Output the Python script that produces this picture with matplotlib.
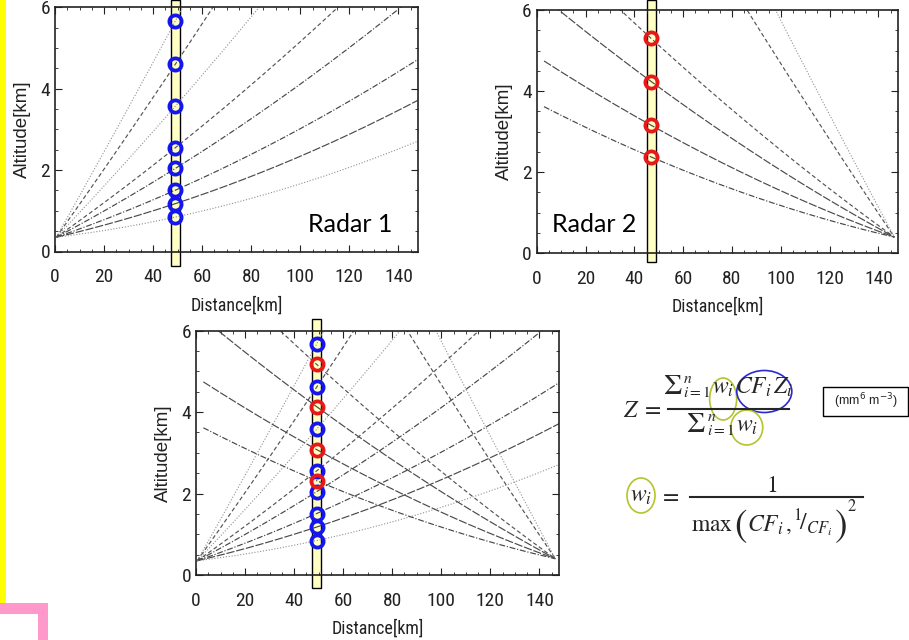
import numpy as np
import matplotlib
matplotlib.use("Agg")
import matplotlib.pyplot as plt
from matplotlib import font_manager
from matplotlib.patches import Rectangle, Ellipse
from matplotlib.ticker import MultipleLocator

W_PX, H_PX, DPI = 909, 640, 100

# ---- radar scan geometry (4/3 effective earth radius propagation) ----
EFFECTIVE_EARTH_RADIUS_KM = 4.0 / 3.0 * 6371.0

radar1_site_km = 0.5
radar1_alt_km = 0.35
radar1_max_range_km = 150.0
radar1_elevations_deg = [6.08, 4.84, 3.63, 2.43, 1.83, 1.20, 0.81, 0.42]
radar1_beam_styles = ["dot", "dash", "dot", "dash", "dashdot", "dashdot", "longdash", "dot"]

radar2_site_km = 146.5
radar2_alt_km = 0.40
radar2_max_range_km = 143.5
radar2_elevations_deg = [0.80, 1.25, 1.87, 2.48, 5.10, 6.40]
radar2_beam_styles = ["dashdot", "longdash", "longdash", "dash", "dash", "dot"]
radar2_sampled = [True, True, True, True, False, False]

# sampling column per panel
column_center_km = {"radar1": 49.1, "radar2": 46.9, "merged": 49.2}
column_width_km = 3.7
column_extent_km = {"radar1": (-0.35, 6.18), "radar2": (-0.21, 6.25), "merged": (-0.32, 6.28)}

x_major_ticks = [0, 20, 40, 60, 80, 100, 120, 140]
y_major_ticks = [0, 2, 4, 6]
x_limits = (0, 148)
y_limits = (0, 6)

panel_titles = {"radar1": "Radar 1", "radar2": "Radar 2"}
unit_label = r"(mm$^{6}$ m$^{-3}$)"

BEAM_STYLES = {
    "dot": dict(ls=(0, (1.0, 1.6)), color="#909090", lw=0.8),
    "dash": dict(ls=(0, (3.5, 2.2)), color="#555555", lw=0.85),
    "dashdot": dict(ls=(0, (5.0, 1.5, 1.0, 1.5)), color="#474747", lw=0.85),
    "longdash": dict(ls=(0, (7.0, 1.5)), color="#4a4a4a", lw=0.85),
}

BLUE = "#1515f0"
RED = "#e81818"
INK = "#222222"

plt.rcParams["mathtext.fontset"] = "stix"


def narrow_font():
    """Prefer a condensed sans face for the axis annotations."""
    fonts = font_manager.fontManager.ttflist
    names = {f.name for f in fonts}
    for fam in ("Liberation Sans Narrow", "Arial Narrow", "Roboto Condensed", "Open Sans Condensed"):
        if fam in names:
            return dict(family=[fam, "DejaVu Sans"]), 14
    for f in fonts:
        if f.name == "DejaVu Sans" and str(f.stretch) in ("condensed", "semi-condensed", "75", "87.5"):
            return dict(family=["DejaVu Sans"], stretch="condensed"), 13
    return dict(family=["Liberation Sans", "DejaVu Sans"]), 12


NARROW, TICK_SIZE = narrow_font()


def beam_height(x, site, alt, elev_deg):
    d = np.abs(np.asarray(x, dtype=float) - site)
    return alt + d * np.tan(np.radians(elev_deg)) + d ** 2 / (2.0 * EFFECTIVE_EARTH_RADIUS_KM)


def radar1_beams():
    x = np.linspace(radar1_site_km, radar1_site_km + radar1_max_range_km, 400)
    return [(x, el, st, True) for el, st in zip(radar1_elevations_deg, radar1_beam_styles)], \
        (radar1_site_km, radar1_alt_km)


def radar2_beams():
    x = np.linspace(radar2_site_km - radar2_max_range_km, radar2_site_km, 400)
    return [(x, el, st, s) for el, st, s in zip(radar2_elevations_deg, radar2_beam_styles, radar2_sampled)], \
        (radar2_site_km, radar2_alt_km)


def style_axes(ax):
    ax.set_xlim(*x_limits)
    ax.set_ylim(*y_limits)
    ax.set_xticks(x_major_ticks)
    ax.set_yticks(y_major_ticks)
    ax.xaxis.set_minor_locator(MultipleLocator(5))
    ax.yaxis.set_minor_locator(MultipleLocator(0.5))
    ax.tick_params(which="both", direction="in", top=True, right=True, colors=INK)
    ax.tick_params(which="major", length=5, width=0.8)
    ax.tick_params(which="minor", length=2.5, width=0.6)
    ax.tick_params(axis="x", pad=12, labelsize=TICK_SIZE)
    ax.tick_params(axis="y", pad=3.5, labelsize=TICK_SIZE)
    for lbl in ax.get_xticklabels() + ax.get_yticklabels():
        lbl.update(NARROW)
    for sp in ax.spines.values():
        sp.set_linewidth(1.2)
        sp.set_color(INK)
    ax.set_xlabel("Distance[km]", fontsize=13, labelpad=7, color=INK, **NARROW)
    ax.set_ylabel("Altitude[km]", fontsize=13.5, labelpad=7, color=INK,
                  family=["Liberation Sans", "DejaVu Sans"])


def draw_panel(ax, key, radars):
    style_axes(ax)
    cx = column_center_km[key]
    y0, y1 = column_extent_km[key]
    ax.add_patch(Rectangle((cx - column_width_km / 2, y0), column_width_km, y1 - y0,
                           facecolor="#ffffc4", edgecolor="black", lw=1.0,
                           clip_on=False, zorder=1))
    for beams, (site, alt), color in radars:
        for x, el, st, _ in beams:
            ax.plot(x, beam_height(x, site, alt, el), zorder=2, **BEAM_STYLES[st])
    for beams, (site, alt), color in radars:
        hs = [beam_height(cx, site, alt, el) for x, el, st, s in beams if s]
        ax.plot([cx] * len(hs), hs, "o", ms=8.8, mfc="none", mec=color, mew=2.7,
                clip_on=False, zorder=4)
    if key in panel_titles:
        pos = {"radar1": (0.697, 0.081), "radar2": (0.0415, 0.0875)}[key]
        ax.text(*pos, panel_titles[key], transform=ax.transAxes, fontsize=18,
                family=["Lato", "DejaVu Sans"], ha="left", va="baseline", zorder=5)


fig = plt.figure(figsize=(W_PX / DPI, H_PX / DPI), dpi=DPI)


def px_axes(x0, x1, top, bottom):
    return fig.add_axes([x0 / W_PX, 1 - bottom / H_PX, (x1 - x0) / W_PX, (bottom - top) / H_PX])


ax1 = px_axes(55, 418, 7.3, 251.5)
ax2 = px_axes(536.7, 898, 10, 253.3)
ax3 = px_axes(196, 559, 330.7, 575)

r1 = radar1_beams()
r2 = radar2_beams()
draw_panel(ax1, "radar1", [(r1[0], r1[1], BLUE)])
draw_panel(ax2, "radar2", [(r2[0], r2[1], RED)])
draw_panel(ax3, "merged", [(r1[0], r1[1], BLUE), (r2[0], r2[1], RED)])

# ---- page decorations and the composite reflectivity formulas (pixel space) ----
ov = fig.add_axes([0, 0, 1, 1])
ov.set_xlim(0, W_PX)
ov.set_ylim(H_PX, 0)
ov.axis("off")

ov.add_patch(Rectangle((0, 0), 6, 603, facecolor="#ffff00", edgecolor="none"))
ov.add_patch(Rectangle((0, 603), 48, 10.5, facecolor="#ff99cc", edgecolor="none"))
ov.add_patch(Rectangle((38, 603), 10, 37, facecolor="#ff99cc", edgecolor="none"))

FORMULA_COLOR = "#262626"
GREEN_RING = "#b4c42e"
renderer = fig.canvas.get_renderer()


def flow(pieces, center_x, baseline_y, gap=1.0):
    """Set math pieces left to right on a common baseline, centred on center_x."""
    texts, widths = [], []
    for s, size, dy in pieces:
        t = ov.text(0, baseline_y + dy, s, fontsize=size, color=FORMULA_COLOR,
                    ha="left", va="baseline")
        widths.append(t.get_window_extent(renderer).width)
        texts.append(t)
    total = sum(widths) + gap * (len(pieces) - 1)
    x = center_x - total / 2.0
    spans = []
    for t, w in zip(texts, widths):
        t.set_x(x)
        spans.append((x, x + w))
        x += w + gap
    return spans


# Z = sum(w_i CF_i Z_i) / sum(w_i)
ov.text(661, 417, r"$Z\;=$", fontsize=17, color=FORMULA_COLOR, ha="right", va="baseline")
num = flow([(r"$\Sigma$", 21, 0), (r"${}^{n}_{i=1}$", 16, -3), (r"$w_i$", 17, 0),
            (r"$CF_i\,Z_i$", 17, 0)], 728, 394)
ov.plot([668, 789], [409, 409], color=FORMULA_COLOR, lw=1.5)
den = flow([(r"$\Sigma$", 21, 0), (r"${}^{n}_{i=1}$", 16, -3), (r"$w_i$", 17, 0)], 722, 432)
ov.add_patch(Ellipse(((num[2][0] + num[2][1]) / 2, 399), 27, 42, fill=False, ec=GREEN_RING, lw=1.2))
ov.add_patch(Ellipse(((num[3][0] + num[3][1]) / 2, 391.5), 55, 42, fill=False, ec="#2a2ad0", lw=1.2))
ov.add_patch(Ellipse(((den[2][0] + den[2][1]) / 2, 427.5), 32, 35, fill=False, ec=GREEN_RING, lw=1.2))

ov.add_patch(Rectangle((823, 386.5), 85, 29.5, fill=False, ec="black", lw=1.0))
ov.text(866, 401.5, unit_label, ha="center", va="center", fontsize=9,
        family=["Liberation Sans", "DejaVu Sans"], math_fontfamily="dejavusans", color=INK)

# w_i = 1 / max(CF_i, 1/CF_i)^2
lhs = flow([(r"$w_i$", 17, 0)], 641, 502)
ov.add_patch(Ellipse((641, 495.5), 28, 35, fill=False, ec=GREEN_RING, lw=1.2))
ov.text(669, 502, r"$=$", fontsize=17, color=FORMULA_COLOR, ha="center", va="baseline")
ov.plot([690, 863], [496.7, 496.7], color=FORMULA_COLOR, lw=1.5)
ov.text(772, 492, r"$1$", fontsize=17, color=FORMULA_COLOR, ha="center", va="baseline")
flow([(r"$\mathrm{max}$", 17, 0), (r"$($", 27, 5), (r"$CF_i\,,$", 17, 0),
      (r"${}^{1}\!/_{CF_i}$", 17, 0), (r"$)$", 27, 5), (r"$^{2}$", 17, -14)], 774, 531, gap=0.5)

fig.savefig("out.png", dpi=DPI)
